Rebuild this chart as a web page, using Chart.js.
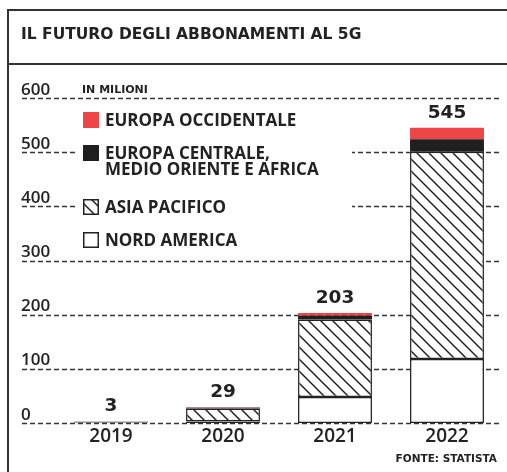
<!DOCTYPE html>
<html>
<head>
<meta charset="utf-8">
<script src="https://cdn.jsdelivr.net/npm/chart.js@4/dist/chart.umd.min.js"></script>
<style>
  body { margin: 0; background: #fff; }
  #wrap { width: 507px; height: 472px; position: relative; }
</style>
</head>
<body>
<div id="wrap"><canvas id="SubsChart"></canvas></div>
<script>
// Years and the four regions (bottom to top of each stack)
let years = ["2019", "2020", "2021", "2022"];
let nordAmerica = [1, 3, 48, 118];
let asiaPacifico = [2, 24, 143, 383];
let europaCentrale = [0, 1, 7, 23];
let europaOccidentale = [0, 1, 5, 21];
let yTicks = [0, 100, 200, 300, 400, 500, 600];

const ink = "#222";
const sans = "'Open Sans', 'Noto Sans', sans-serif";
const heavy = "'DejaVu Sans', sans-serif";

// Diagonal hatch for Asia Pacifico
function makeHatch() {
    let c = document.createElement("canvas");
    c.width = 12; c.height = 12;
    let g = c.getContext("2d");
    g.fillStyle = "#fff";
    g.fillRect(0, 0, 12, 12);
    g.strokeStyle = ink;
    g.lineWidth = 1.5;
    g.beginPath();
    g.moveTo(0, 0); g.lineTo(12, 12);
    g.moveTo(-2, 10); g.lineTo(2, 14);
    g.moveTo(10, -2); g.lineTo(14, 2);
    g.stroke();
    return g.createPattern(c, "repeat");
}
const hatch = makeHatch();

// Frame, title, dashed grid, y labels and legend
const decorations = {
    id: "decorations",
    beforeDatasetsDraw(chart) {
        const ctx = chart.ctx;
        const y = chart.scales.y;
        ctx.save();

        // frame
        ctx.strokeStyle = "#333";
        ctx.lineWidth = 2;
        ctx.beginPath();
        ctx.moveTo(8, 10); ctx.lineTo(507, 10);
        ctx.moveTo(8, 64); ctx.lineTo(507, 64);
        ctx.moveTo(8, 9); ctx.lineTo(8, 472);
        ctx.stroke();

        // title
        ctx.fillStyle = ink;
        ctx.font = "bold 15.5px " + heavy;
        ctx.textBaseline = "alphabetic";
        ctx.fillText("IL FUTURO DEGLI ABBONAMENTI AL 5G", 21, 39);

        // grid lines
        ctx.setLineDash([5, 3]);
        ctx.lineWidth = 1.5;
        ctx.strokeStyle = "#333";
        for (let v of yTicks) {
            let py = Math.round(y.getPixelForValue(v)) + 0.5;
            ctx.beginPath();
            ctx.moveTo(22, py); ctx.lineTo(500, py);
            ctx.stroke();
        }
        ctx.setLineDash([]);

        // y labels
        ctx.font = "600 17px " + sans;
        for (let v of yTicks) {
            ctx.fillText(String(v), 21, y.getPixelForValue(v) - 3.5);
        }
        ctx.font = "bold 11px " + heavy;
        ctx.fillText("IN MILIONI", 82, 93);

        // legend box hides the grid behind it
        ctx.fillStyle = "#fff";
        ctx.fillRect(76, 104, 276, 148);

        const items = [
            { ds: 3, top: 112, lines: ["EUROPA OCCIDENTALE"] },
            { ds: 2, top: 145, lines: ["EUROPA CENTRALE,", "MEDIO ORIENTE E AFRICA"] },
            { ds: 1, top: 199, lines: ["ASIA PACIFICO"] },
            { ds: 0, top: 232, lines: ["NORD AMERICA"] }
        ];
        ctx.font = "bold 17px " + sans;
        ctx.textBaseline = "middle";
        for (let it of items) {
            let d = chart.data.datasets[it.ds];
            ctx.fillStyle = d.backgroundColor;
            ctx.fillRect(83, it.top, 16, 16);
            if (d.borderWidth) {
                ctx.strokeStyle = ink;
                ctx.lineWidth = 1.5;
                ctx.strokeRect(83.75, it.top + 0.75, 14.5, 14.5);
            }
            ctx.fillStyle = ink;
            it.lines.forEach((t, i) => ctx.fillText(t, 105, it.top + 9 + i * 16.5));
        }
        ctx.restore();
    },
    afterDatasetsDraw(chart) {
        const ctx = chart.ctx;
        const x = chart.scales.x;
        const y = chart.scales.y;
        ctx.save();
        ctx.fillStyle = ink;
        ctx.textAlign = "center";

        // totals above bars
        ctx.font = "bold 18.5px " + heavy;
        ctx.textBaseline = "alphabetic";
        years.forEach((yr, i) => {
            let total = chart.data.datasets.reduce((s, d) => s + d.data[i], 0);
            ctx.fillText(String(total), x.getPixelForValue(i), y.getPixelForValue(total) - 10);
        });

        // year labels
        ctx.font = "600 19px " + sans;
        ctx.textBaseline = "middle";
        years.forEach((yr, i) => ctx.fillText(yr, x.getPixelForValue(i), 437));

        // source
        ctx.textAlign = "right";
        ctx.font = "bold 10.5px " + heavy;
        ctx.fillText("FONTE: STATISTA", 497, 459);
        ctx.restore();
    }
};

new Chart("SubsChart", {
    type: "bar",
    data: {
        labels: years,
        datasets: [{
            label: "NORD AMERICA",
            data: nordAmerica,
            backgroundColor: "#fff",
            borderColor: ink,
            borderWidth: 1.5,
            borderSkipped: false
        }, {
            label: "ASIA PACIFICO",
            data: asiaPacifico,
            backgroundColor: hatch,
            borderColor: ink,
            borderWidth: 1.5,
            borderSkipped: false
        }, {
            label: "EUROPA CENTRALE, MEDIO ORIENTE E AFRICA",
            data: europaCentrale,
            backgroundColor: "#1f1f1f",
            borderWidth: 0
        }, {
            label: "EUROPA OCCIDENTALE",
            data: europaOccidentale,
            backgroundColor: "#ee4646",
            borderWidth: 0
        }]
    },
    options: {
        responsive: true,
        maintainAspectRatio: false,
        animation: false,
        barPercentage: 0.66,
        categoryPercentage: 1,
        layout: { padding: { left: 55, right: 4, top: 98, bottom: 49 } },
        scales: {
            x: { stacked: true, display: false },
            y: { stacked: true, display: false, min: 0, max: 600 }
        },
        plugins: {
            legend: { display: false },
            tooltip: { enabled: false }
        }
    },
    plugins: [decorations]
});
</script>
</body>
</html>
